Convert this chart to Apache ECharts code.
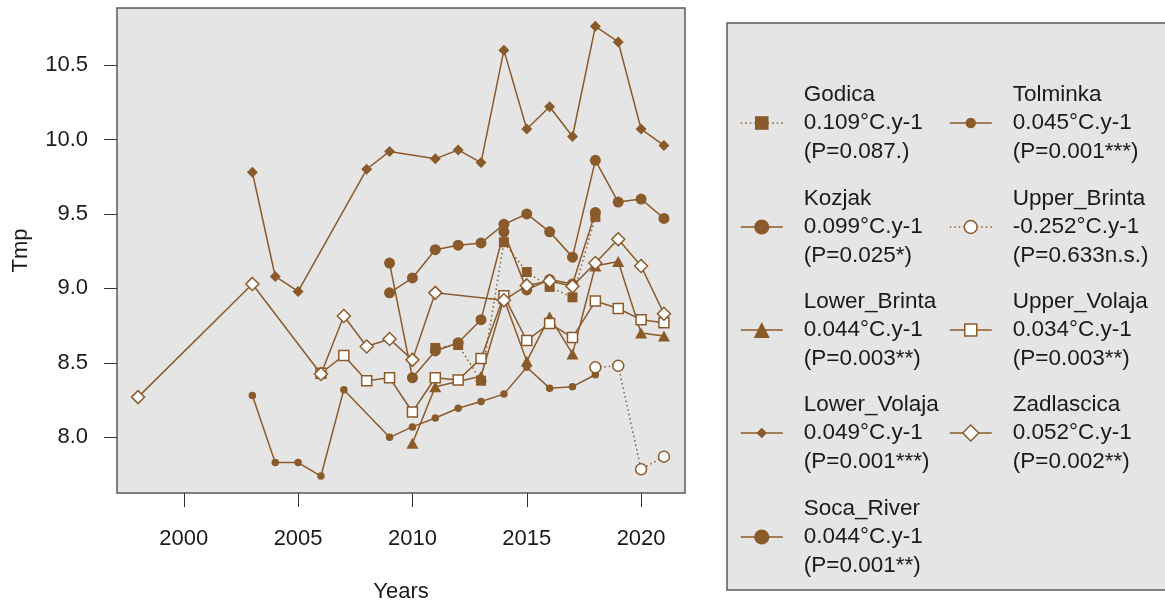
<!DOCTYPE html>
<html><head><meta charset="utf-8">
<script src="https://cdn.jsdelivr.net/npm/echarts@6/dist/echarts.min.js"></script>
<style>html,body{margin:0;padding:0;background:#fff;}#c{width:1165px;height:603px;}</style>
</head><body><div id="c"></div>
<script>
// ---- data ----
const seriesNames = ['Godica','Kozjak','Lower_Brinta','Lower_Volaja','Soca_River','Tolminka','Upper_Brinta','Upper_Volaja','Zadlascica'];
const slopes = ['0.109°C.y-1','0.099°C.y-1','0.044°C.y-1','0.049°C.y-1','0.044°C.y-1','0.045°C.y-1','-0.252°C.y-1','0.034°C.y-1','0.052°C.y-1'];
const pValues = ['(P=0.087.)','(P=0.025*)','(P=0.003**)','(P=0.001***)','(P=0.001**)','(P=0.001***)','(P=0.633n.s.)','(P=0.003**)','(P=0.002**)'];

const godicaYears = [2011,2012,2013,2014,2015,2016,2017,2018];
const godicaTmp   = [8.60,8.62,8.38,9.31,9.11,9.01,8.94,9.48];

const kozjakYears = [2009,2010,2011,2012,2013,2014,2015,2016,2017,2018];
const kozjakTmp   = [9.17,8.40,8.58,8.635,8.79,9.38,8.99,9.06,9.03,9.51];

const lowerBrintaYears = [2010,2011,2013,2014,2015,2016,2017,2018,2019,2020,2021];
const lowerBrintaTmp   = [7.96,8.34,8.41,8.93,8.51,8.81,8.56,9.15,9.18,8.70,8.68];

const lowerVolajaYears = [2003,2004,2005,2008,2009,2011,2012,2013,2014,2015,2016,2017,2018,2019,2020,2021];
const lowerVolajaTmp   = [9.78,9.08,8.98,9.80,9.92,9.87,9.93,9.845,10.60,10.07,10.22,10.02,10.76,10.655,10.07,9.96];

const socaYears = [2009,2010,2011,2012,2013,2014,2015,2016,2017,2018,2019,2020,2021];
const socaTmp   = [8.97,9.07,9.26,9.29,9.305,9.43,9.50,9.38,9.21,9.86,9.58,9.60,9.47];

const tolminkaYears = [2003,2004,2005,2006,2007,2009,2010,2011,2012,2013,2014,2015,2016,2017,2018];
const tolminkaTmp   = [8.28,7.83,7.83,7.74,8.32,8.00,8.07,8.13,8.195,8.24,8.29,8.47,8.33,8.34,8.42];

const upperBrintaYears = [2018,2019,2020,2021];
const upperBrintaTmp   = [8.47,8.48,7.785,7.87];

const upperVolajaYears = [2006,2007,2008,2009,2010,2011,2012,2013,2014,2015,2016,2017,2018,2019,2020,2021];
const upperVolajaTmp   = [8.43,8.55,8.38,8.40,8.17,8.40,8.385,8.53,8.95,8.65,8.765,8.67,8.915,8.865,8.79,8.77];

const zadlascicaYears = [1998,2003,2006,2007,2008,2009,2010,2011,2014,2015,2016,2017,2018,2019,2020,2021];
const zadlascicaTmp   = [8.27,9.03,8.425,8.815,8.61,8.66,8.52,8.97,8.92,9.02,9.05,9.015,9.17,9.33,9.15,8.83];

const yTicks = [8.0,8.5,9.0,9.5,10.0,10.5];
const xTicks = [2000,2005,2010,2015,2020];

// ---- styles ----
const BROWN = '#8B5A2B';
const FONT = 'Liberation Sans, Arial, Helvetica, sans-serif';
const allYears = [godicaYears,kozjakYears,lowerBrintaYears,lowerVolajaYears,socaYears,tolminkaYears,upperBrintaYears,upperVolajaYears,zadlascicaYears];
const allTmp = [godicaTmp,kozjakTmp,lowerBrintaTmp,lowerVolajaTmp,socaTmp,tolminkaTmp,upperBrintaTmp,upperVolajaTmp,zadlascicaTmp];
const styles = [
  {symbol:'rect', size:10, fill:BROWN, dotted:true, leg:17},
  {symbol:'circle', size:11, fill:BROWN, dotted:false, leg:19},
  {symbol:'triangle', size:[12,11], fill:BROWN, dotted:false, leg:20},
  {symbol:'diamond', size:11, fill:BROWN, dotted:false, leg:13},
  {symbol:'circle', size:11, fill:BROWN, dotted:false, leg:19},
  {symbol:'circle', size:7.5, fill:BROWN, dotted:false, leg:13},
  {symbol:'circle', size:11, fill:'#fff', dotted:true, leg:16},
  {symbol:'rect', size:10, fill:'#fff', dotted:false, leg:15},
  {symbol:'diamond', size:13, fill:'#fff', dotted:false, leg:20}
];
const lineDash = [1.5,3];

const series = seriesNames.map((name,i)=>({
  name: name,
  type: 'line',
  data: allYears[i].map((yr,j)=>[yr, allTmp[i][j]]),
  symbol: styles[i].symbol,
  symbolSize: styles[i].size,
  showAllSymbol: true,
  z: 2 + i,
  itemStyle: {color: styles[i].fill, borderColor: BROWN, borderWidth: styles[i].fill==='#fff'?1.5:0},
  lineStyle: {color: BROWN, width: 1.5, type: styles[i].dotted ? lineDash : 'solid'},
  emphasis: {disabled: true},
  animation: false
}));

const rowCenters = [123,227,330,433,537];
const lineH = 28.5;
const legends = seriesNames.map((name,i)=>{
  const col = i < 5 ? 0 : 1;
  const row = i < 5 ? i : i - 5;
  return {
    data: [{name: name,
      itemStyle: {color: styles[i].fill, borderColor: BROWN, borderWidth: styles[i].fill==='#fff'?1.5:0},
      lineStyle: {color: BROWN, width: 1.5, type: styles[i].dotted ? lineDash : 'solid'}}],
    left: col === 0 ? 740 : 949,
    top: rowCenters[row] - 1.5*lineH,
    padding: 0,
    itemWidth: 42,
    itemHeight: styles[i].leg,
    selectedMode: false,
    z: 10,
    formatter: n => n + '\n' + slopes[i] + '\n' + pValues[i],
    textStyle: {fontSize: 22.5, lineHeight: lineH, color: '#1a1a1a', fontFamily: FONT, padding: [0,0,0,16]}
  };
});

const chart = echarts.init(document.getElementById('c'), null, {renderer: 'canvas'});
chart.setOption({
  animation: false,
  backgroundColor: '#fff',
  textStyle: {fontFamily: FONT},
  graphic: [{type:'rect', z: 0, shape:{x:727, y:23, width:460, height:567},
             style:{fill:'#E5E5E5', stroke:'#5a5a5a', lineWidth:1.5}}],
  grid: {left:117, top:8, width:568, height:485, show:true, backgroundColor:'#E5E5E5',
         borderColor:'#5a5a5a', borderWidth:1.5, containLabel:false, outerBoundsMode:'none'},
  xAxis: {
    type:'value', min:1997.08, max:2021.92,
    name:'Years', nameLocation:'middle', nameGap:88,
    nameTextStyle:{fontSize:22, color:'#1a1a1a', fontFamily:FONT},
    axisLine:{show:false},
    axisTick:{show:true, customValues:xTicks, length:14, lineStyle:{color:'#333', width:1}},
    axisLabel:{customValues:xTicks, fontSize:22, color:'#1a1a1a', margin:35, fontFamily:FONT,
               formatter: v => String(Math.round(v))},
    splitLine:{show:false}
  },
  yAxis: {
    type:'value', min:7.626, max:10.883,
    name:'Tmp', nameLocation:'middle', nameGap:85,
    nameTextStyle:{fontSize:22, color:'#1a1a1a', fontFamily:FONT},
    axisLine:{show:false},
    axisTick:{show:true, customValues:yTicks, length:13, lineStyle:{color:'#333', width:1}},
    axisLabel:{customValues:yTicks, fontSize:22, color:'#1a1a1a', margin:29, fontFamily:FONT,
               formatter: v => Number(v).toFixed(1)},
    splitLine:{show:false}
  },
  legend: legends,
  series: series
});
</script>
</body></html>
